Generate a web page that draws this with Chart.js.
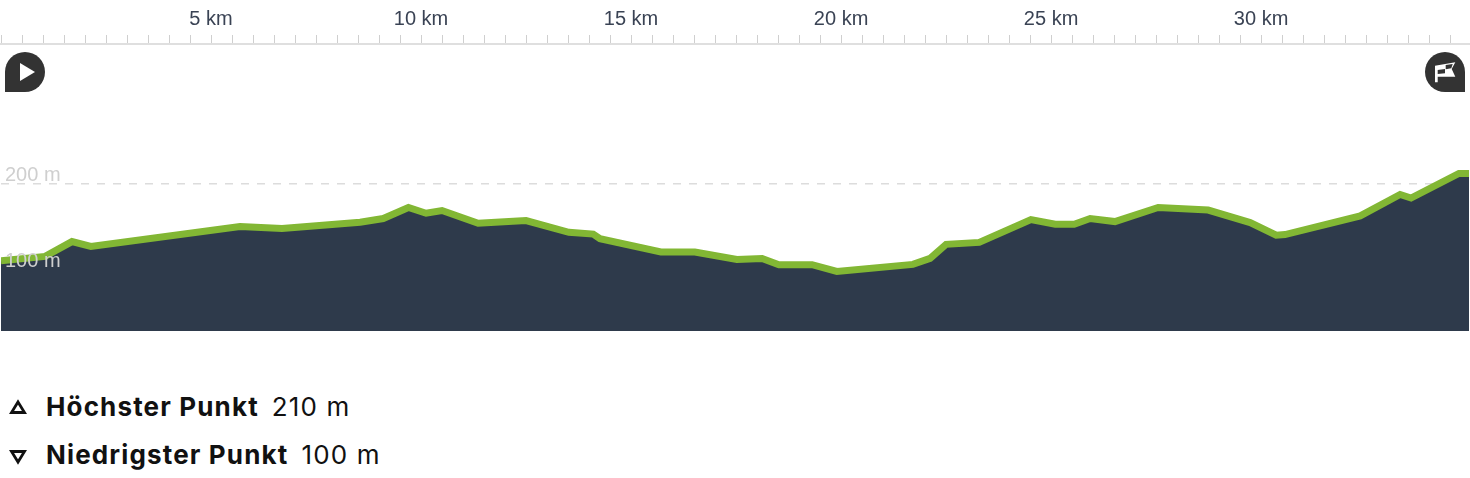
<!DOCTYPE html>
<html lang="de">
<head>
<meta charset="utf-8">
<title>Höhenprofil</title>
<script src="https://cdn.jsdelivr.net/npm/chart.js@4"></script>
<style>
    html, body { margin: 0; padding: 0; background: #fff; }
    #page { position: relative; width: 1470px; height: 478px; overflow: hidden; }
    #wrap { position: absolute; left: 0; top: 0; width: 1470px; height: 332px; }
    .badge { position: absolute; top: 52px; width: 40px; height: 40px; }
    .stat { position: absolute; left: 46px; font-family: Inter, sans-serif; font-size: 26px; letter-spacing: 1.15px; color: #111; white-space: nowrap; line-height: 32px; }
    .stat b { font-weight: 700; margin-right: 13px; }
    .tri { position: absolute; left: 9px; width: 18px; height: 16px; }
</style>
</head>
<body>
<div id="page">
    <div id="wrap"><canvas id="profile"></canvas></div>

    <svg class="badge" style="left:5px" viewBox="0 0 40 40">
        <path d="M20 0a20 20 0 0 1 0 40H0V20A20 20 0 0 1 20 0z" fill="#333"/>
        <path d="M15 11l15 9-15 9z" fill="#fff"/>
    </svg>
    <svg class="badge" style="left:1425px" viewBox="0 0 40 40">
        <path d="M20 0a20 20 0 0 1 20 20v20H20a20 20 0 0 1 0-40z" fill="#333"/>
        <path d="M10 13.700L30.300 10.300 26.700 17l3.600 7.700H12.700v5.600H10z" fill="#fff"/>
        <path d="M20.700 13l7-1-1.400 4.300-5.600 1zM12.700 18l7.300-1v4.300l-7.300.7z" fill="#333"/>
    </svg>

    <svg class="tri" style="top:399px" viewBox="0 0 18 16"><path d="M9 3l6.500 10.500h-13z" fill="none" stroke="#111" stroke-width="2.800"/></svg>
    <div class="stat" style="top:391px"><b>Höchster Punkt</b>210 m</div>
    <svg class="tri" style="top:449px" viewBox="0 0 18 16"><path d="M9 13L2.500 2.500h13z" fill="none" stroke="#111" stroke-width="2.800"/></svg>
    <div class="stat" style="top:439px"><b>Niedrigster Punkt</b>100 m</div>
</div>

<script>
// Strecke in km und Höhe in m
const distanceKm = [0, 1.05, 1.69, 2.14, 5.69, 6.69, 8.55, 9.1, 9.7, 10.12, 10.5, 11.36, 12.5, 13.52, 14.1, 14.26,
    15.71, 16.52, 17.52, 18.12, 18.52, 19.31, 19.9, 21.71, 22.12, 22.5, 23.29, 24.52, 25.1, 25.55, 25.93, 26.52,
    27.55, 28.74, 29.74, 30.36, 30.57, 32.36, 33.31, 33.57, 34.71, 34.95];
const elevation = [110.5, 115.5, 132.6, 127.1, 150, 147.7, 155, 159.3, 172.1, 165.5, 168.6, 153.8, 157, 143.4, 141.3, 136,
    120.6, 120.6, 112, 113.1, 105.8, 105.8, 98, 106.2, 113.1, 129.4, 131.7, 158.1, 152.7, 152.7, 159.3, 155.8,
    172.1, 169.2, 154.7, 140.1, 140.7, 162.4, 187.2, 183.1, 211.6, 211.6];
const kmTicks = [5, 10, 15, 20, 25, 30];
const elevationTicks = [100, 200];

const ctx = document.getElementById('profile').getContext('2d');

// Chart.js reserviert sonst Platz für die halben Labels am Rand
function noScalePadding(scale) {
    scale.paddingLeft = 0;
    scale.paddingRight = 0;
    scale.paddingTop = 0;
    scale.paddingBottom = 0;
}

new Chart(ctx, {
    type: 'line',
    data: {
        datasets: [{
            data: distanceKm.map((km, i) => ({ x: km, y: elevation[i] })),
            borderColor: '#82b734',
            borderWidth: 7,
            backgroundColor: '#2e3a4b',
            fill: 'start',
            pointRadius: 0,
            tension: 0
        }]
    },
    options: {
        responsive: true,
        maintainAspectRatio: false,
        animation: false,
        layout: { padding: { left: 1, right: 1, top: 0, bottom: 1 } },
        plugins: { legend: { display: false }, tooltip: { enabled: false } },
        scales: {
            x: {
                type: 'linear',
                position: 'top',
                min: 0,
                max: 34.95,
                afterFit: scale => { scale.height = 44; noScalePadding(scale); },
                border: { color: '#dfdfdf', width: 2 },
                grid: { drawOnChartArea: false, tickLength: 9, tickColor: '#cfcfcf', tickWidth: 1 },
                ticks: {
                    stepSize: 0.5,
                    includeBounds: false,
                    autoSkip: false,
                    maxRotation: 0,
                    padding: 4,
                    color: '#3a4354',
                    font: { family: 'Liberation Sans', size: 20 },
                    callback: value => kmTicks.includes(value) ? value + ' km' : ''
                }
            },
            y: {
                type: 'linear',
                min: 29,
                max: 361.6,
                afterBuildTicks: scale => { scale.ticks = elevationTicks.map(v => ({ value: v })); },
                afterFit: scale => { scale.width = 0; noScalePadding(scale); },
                border: { display: false, dash: [8, 8] },
                grid: {
                    drawTicks: false,
                    lineWidth: 1.5,
                    color: c => c.tick && c.tick.value === 200 ? '#dcdcdc' : 'transparent'
                },
                ticks: {
                    mirror: true,
                    padding: 4,
                    labelOffset: -8,
                    z: 1,
                    color: '#cfcfcf',
                    font: { family: 'Liberation Sans', size: 20 },
                    callback: value => value + ' m'
                }
            }
        }
    }
});
</script>
</body>
</html>
